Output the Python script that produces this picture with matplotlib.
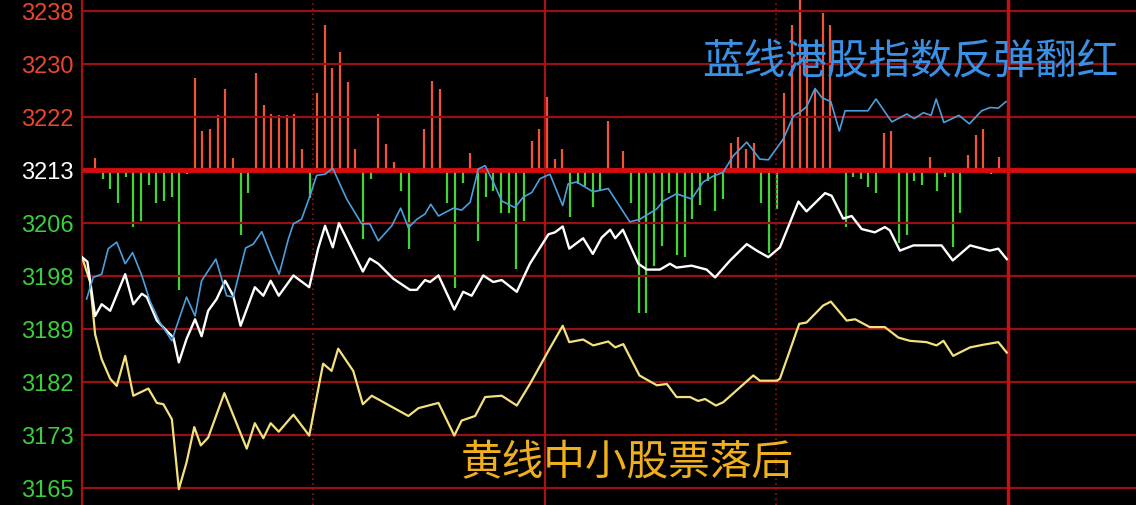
import matplotlib
matplotlib.use("Agg")
import matplotlib.pyplot as plt
import numpy as np

plt.rcParams["font.family"] = ["Liberation Sans", "Noto Sans CJK SC", "DejaVu Sans"]

# y tick labels (grid is evenly spaced, labels are rounded)
tick_labels = ["3238", "3230", "3222", "3213", "3206", "3198", "3189", "3182", "3173", "3165"]
tick_colors = ["#e8472e"] * 3 + ["#ffffff"] + ["#3ccf3c"] * 6
base_value = 3213.67
step = 8.111

# white line (index), minutes from open
white_t = [0, 1.4, 3.4, 5.1, 7.3, 11.2, 13.3, 15.5, 16.8, 19.4, 22.0, 23.7, 25.1, 27.1, 29.3,
           31.0, 32.7, 34.9, 37.1, 39.2, 41.1, 44.8, 47.0, 48.9, 51.0, 54.8, 58.9, 61.2, 63.0,
           65.0, 66.6, 72.8, 74.6, 76.8, 80.7, 85.0, 86.8, 88.9, 90.2, 92.4, 96.5, 98.8, 101.0,
           104.0, 106.6, 108.8, 112.7, 116.1, 120.9, 122.6, 124.6, 126.3, 129.9, 132.4, 134.7,
           136.9, 138.2, 140.2, 144.2, 146.4, 149.8, 152.4, 154.1, 158.0, 161.9, 164.1, 168.0,
           172.3, 174.9, 177.9, 180.9, 185.7, 187.8, 192.6, 194.3, 197.3, 199.5, 202.1, 205.5,
           208.1, 209.4, 212.0, 215.5, 222.8, 225.7, 230.2, 235.3, 237.5, 239.7]
white_v = [3200.3, 3199.6, 3191.3, 3193.1, 3192.1, 3197.7, 3193.1, 3194.7, 3194.2, 3190.6, 3189.0,
           3188.0, 3184.2, 3187.8, 3190.8, 3188.2, 3192.1, 3193.9, 3196.7, 3194.4, 3189.8, 3195.7,
           3194.4, 3196.7, 3194.4, 3197.5, 3195.7, 3201.6, 3205.1, 3201.8, 3205.5, 3198.1, 3200.1,
           3199.3, 3197.0, 3195.3, 3195.3, 3196.8, 3196.5, 3197.5, 3192.3, 3195.0, 3194.4, 3197.5,
           3196.5, 3196.8, 3195.0, 3199.3, 3203.8, 3204.1, 3205.0, 3201.6, 3203.2, 3200.8, 3203.3,
           3204.5, 3203.2, 3204.5, 3199.3, 3198.4, 3198.4, 3199.3, 3198.7, 3199.0, 3198.4, 3197.2,
           3199.8, 3202.3, 3201.3, 3200.3, 3201.8, 3208.8, 3207.3, 3210.1, 3209.7, 3206.2, 3206.6,
           3204.6, 3204.1, 3204.9, 3204.4, 3201.3, 3202.1, 3202.1, 3199.8, 3202.1, 3201.3, 3201.6,
           3200.0]

# yellow line (small caps)
yellow_t = [0, 2.1, 3.4, 5.1, 7.3, 9.0, 11.2, 13.3, 17.2, 19.4, 21.1, 23.3, 25.1, 27.1, 29.1,
            30.8, 32.7, 36.9, 42.7, 44.8, 47.0, 48.9, 51.0, 54.8, 58.9, 62.5, 64.7, 66.4, 70.3,
            72.8, 75.1, 84.6, 87.2, 92.4, 96.5, 98.4, 101.9, 104.5, 108.8, 112.7, 116.1, 121.3,
            124.6, 126.3, 129.9, 132.5, 136.4, 138.2, 140.3, 144.5, 149.0, 151.6, 154.1, 157.6,
            159.7, 161.5, 164.3, 166.2, 174.0, 175.7, 180.1, 180.9, 185.9, 187.8, 192.1, 194.1,
            198.2, 200.4, 204.2, 208.1, 211.6, 214.6, 218.9, 221.5, 223.3, 225.8, 230.2, 233.6,
            237.5, 239.7]
yellow_v = [3200.3, 3196.5, 3188.5, 3184.7, 3181.7, 3180.6, 3185.2, 3179.1, 3180.2, 3178.0, 3177.8,
            3175.5, 3164.8, 3168.9, 3174.3, 3171.5, 3172.7, 3179.5, 3171.0, 3174.9, 3172.6, 3174.9,
            3173.6, 3176.2, 3173.0, 3184.0, 3182.9, 3186.3, 3182.9, 3177.8, 3179.1, 3176.0, 3177.2,
            3178.0, 3173.0, 3175.3, 3176.0, 3178.9, 3179.1, 3177.6, 3180.9, 3186.4, 3189.8, 3187.3,
            3187.7, 3186.8, 3187.4, 3186.5, 3187.0, 3182.2, 3180.7, 3180.9, 3178.9, 3178.9, 3178.3,
            3178.6, 3177.6, 3178.1, 3182.2, 3181.4, 3181.4, 3181.7, 3190.1, 3190.3, 3192.9, 3193.5,
            3190.6, 3190.8, 3189.6, 3189.6, 3188.0, 3187.5, 3187.3, 3186.8, 3187.5, 3185.2, 3186.5,
            3186.9, 3187.3, 3185.7]

# blue line (HK stocks)
blue_t = [1.2, 2.9, 5.1, 6.8, 9.0, 11.2, 13.1, 15.5, 17.6, 20.2, 23.3, 24.1, 27.1, 29.3, 31.0,
          34.7, 37.5, 39.2, 42.4, 44.4, 46.6, 49.2, 51.1, 53.5, 54.8, 56.9, 59.1, 60.8, 63.0, 65.0,
          68.6, 72.5, 74.6, 76.8, 80.3, 82.6, 84.6, 86.8, 88.9, 90.4, 92.4, 96.3, 98.4, 100.6,
          101.9, 102.7, 104.5, 106.6, 108.8, 112.2, 114.4, 116.6, 118.7, 121.3, 124.6, 126.0,
          128.2, 132.5, 136.4, 142.0, 144.6, 149.0, 150.7, 154.1, 158.0, 161.0, 163.6, 166.2,
          168.8, 172.3, 175.7, 177.9, 181.8, 184.4, 186.1, 187.8, 190.0, 191.8, 194.1, 196.3,
          197.8, 203.7, 205.8, 209.9, 213.8, 215.7, 218.1, 220.1, 221.4, 223.4, 227.3, 230.0,
          233.2, 235.4, 237.5, 239.5]
blue_v = [3193.9, 3197.2, 3197.7, 3201.6, 3202.6, 3199.3, 3201.0, 3197.5, 3193.6, 3190.3, 3187.5,
          3189.0, 3194.2, 3191.3, 3196.7, 3200.0, 3194.4, 3194.2, 3201.7, 3202.3, 3204.2, 3200.3,
          3197.7, 3203.1, 3205.4, 3206.1, 3209.7, 3212.8, 3213.0, 3213.9, 3209.2, 3205.4, 3205.4,
          3202.8, 3205.1, 3207.8, 3204.8, 3206.1, 3206.9, 3208.4, 3206.6, 3207.8, 3207.5, 3208.7,
          3211.8, 3213.8, 3214.3, 3211.8, 3208.9, 3207.9, 3209.5, 3210.2, 3212.3, 3213.0, 3208.2,
          3211.5, 3211.8, 3210.3, 3210.8, 3205.7, 3206.1, 3207.7, 3208.9, 3210.0, 3209.2, 3211.8,
          3212.7, 3213.3, 3215.8, 3217.9, 3215.3, 3215.2, 3218.4, 3221.9, 3222.5, 3223.3, 3226.1,
          3224.7, 3224.1, 3219.6, 3222.7, 3222.7, 3224.5, 3221.0, 3222.2, 3221.5, 3222.4, 3222.0,
          3224.5, 3220.9, 3222.0, 3220.7, 3222.7, 3223.2, 3223.1, 3224.1]

# red/green breadth bars, one every ~2 minutes
breadth = [12, -9, -19, -33, -7, -57, -51, -15, -33, -31, -27, -120, -4, 92, 39, 41, 55, 81, 12,
           -65, -23, 97, 65, 56, 55, 55, 56, 21, -28, 77, 145, 102, 118, 88, 21, -69, -9, 56, 26,
           8, -21, -79, 2, 41, 89, 81, -33, -118, -13, 17, -71, -27, -21, -43, -43, -99, -51, 29,
           41, 73, 11, 21, -47, -14, -16, -37, -21, 49, 2, 19, -33, -143, -143, -96, -76, -23,
           -85, -87, -49, -35, -11, -41, -29, 27, 33, 21, 27, -33, -83, -39, 77, 145, 180, 125,
           80, 157, 145, -3, -57, -7, -9, -17, -23, 37, 39, -73, -65, -11, -15, 13, -21, -7, -77,
           -43, 15, 35, 41, -4, 13]

W, H = 1136, 506
fig = plt.figure(figsize=(W / 100, H / 100), dpi=100, facecolor="black")
ax = fig.add_axes([82 / W, 0, 1 - 82 / W, 1])

ymax = 3239.8
ymin = ymax - 0.153 * H
ax.set_ylim(ymin, ymax)
xmax = (W - 82) / 3.858
ax.set_xlim(0, xmax)

grid_vals = [base_value + step * k for k in range(3, -7, -1)]
for v in grid_vals:
    if abs(v - base_value) > 0.01:
        ax.axhline(v, color="#9a1010", lw=1.6, zorder=1)

ax.axvline(60, color="#9a1010", lw=1.2, ls=(0, (1, 2)), zorder=1)
ax.axvline(120, color="#a81212", lw=1.6, zorder=1)
ax.axvline(180, color="#9a1010", lw=1.2, ls=(0, (1, 2)), zorder=1)
ax.axvline(240, color="#c81010", lw=2.5, zorder=1)

# bars on a twin scale whose zero sits on the 3213 line
axb = ax.twinx()
frac = (base_value - ymin) / (ymax - ymin)
axb.set_ylim(-frac * H, (1 - frac) * H)
axb.set_xlim(0, xmax)
bar_t = np.linspace(3.4, 237.6, len(breadth))
b = np.array(breadth)
axb.vlines(bar_t[b > 0], 0, b[b > 0], color="#f0553a", lw=1.6, zorder=2)
axb.vlines(bar_t[b < 0], 0, b[b < 0], color="#44d43a", lw=1.6, zorder=2)
axb.axhline(0, color="#d80c0c", lw=3.5, zorder=3)
axb.set_yticks([])
for s in axb.spines.values():
    s.set_visible(False)

# lines and labels drawn above the bars
ax.set_zorder(axb.get_zorder() + 1)
ax.patch.set_visible(False)
axb.patch.set_facecolor("black")

ax.plot(yellow_t, yellow_v, color="#f3e27c", lw=1.6, zorder=4)
ax.plot(white_t, white_v, color="#ffffff", lw=1.7, zorder=5)
ax.plot(blue_t, blue_v, color="#4c9fdc", lw=1.2, zorder=6)

ax.set_yticks(grid_vals)
ax.set_yticklabels(tick_labels, fontsize=17)
for lab, c in zip(ax.get_yticklabels(), tick_colors):
    lab.set_color(c)
ax.tick_params(axis="y", length=0, pad=6)
ax.set_xticks([])
for name, s in ax.spines.items():
    s.set_visible(name == "left")
ax.spines["left"].set_color("#a81212")
ax.spines["left"].set_linewidth(1.6)

ax.text(0.7856, 0.8755, "蓝线港股指数反弹翻红", transform=ax.transAxes, ha="center",
        va="center", fontsize=30, color="#3a90e4", family=["Noto Sans CJK SC", "DejaVu Sans"],
        zorder=7)
ax.text(0.517, 0.083, "黄线中小股票落后", transform=ax.transAxes, ha="center",
        va="center", fontsize=30, color="#f0b01e", family=["Noto Sans CJK SC", "DejaVu Sans"],
        zorder=7)

fig.savefig("out.png", dpi=100, facecolor="black")
